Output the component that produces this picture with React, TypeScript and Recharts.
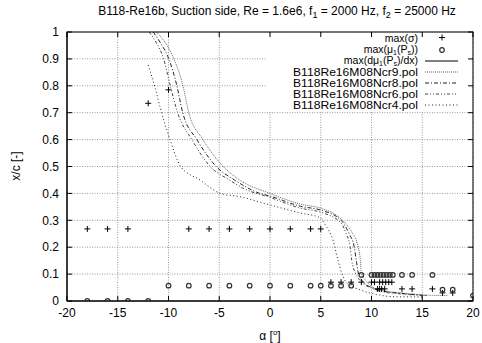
import React from "react";
import { ComposedChart, Line, Scatter, XAxis, YAxis, CartesianGrid } from "recharts";

// max(sigma) locations
const sigmaAlpha = [-18, -16, -14, -12, -10, -8, -6, -4, -2, 0, 2, 4, 5, 6, 7, 8, 9, 10, 10.3, 10.8, 11.1, 11.4, 11.7, 12, 10.6, 10.8, 11, 11.3, 13, 14, 16, 17, 18];
const sigmaXc = [0.268, 0.268, 0.268, 0.735, 0.785, 0.268, 0.268, 0.268, 0.268, 0.268, 0.268, 0.268, 0.268, 0.07, 0.07, 0.07, 0.07, 0.07, 0.07, 0.07, 0.07, 0.07, 0.07, 0.07, 0.045, 0.045, 0.045, 0.045, 0.045, 0.045, 0.045, 0.03, 0.03];

// max(mu1(Ps)) locations
const muAlpha = [-18, -16, -14, -12, -10, -8, -6, -4, -2, 0, 2, 4, 5, 6, 7, 8, 9, 10, 10.3, 10.6, 10.9, 11.2, 11.5, 11.8, 12.1, 13, 14, 16, 17, 18, 20];
const muXc = [0, 0, 0, 0, 0.057, 0.057, 0.057, 0.057, 0.057, 0.057, 0.057, 0.057, 0.057, 0.057, 0.057, 0.057, 0.097, 0.097, 0.097, 0.097, 0.097, 0.097, 0.097, 0.097, 0.097, 0.097, 0.097, 0.097, 0.042, 0.042, 0.02];

// xfoil transition curves
const ncr9Alpha = [-11.2, -10.5, -9.5, -8.6, -8.0, -6.6, -4.6, -3, 0, 3, 5, 7, 8, 8.7, 8.9, 9.0, 9.4, 10, 11, 13, 15.5, 17.5];
const ncr9Xc = [1.0, 0.97, 0.903, 0.804, 0.7, 0.6, 0.5, 0.45, 0.4, 0.36, 0.345, 0.305, 0.26, 0.2, 0.152, 0.104, 0.078, 0.055, 0.04, 0.03, 0.022, 0.02];
const ncr8Alpha = [-11.5, -10.8, -10.0, -9.2, -8.6, -7.2, -5.3, -3.5, -1, 0, 3, 5, 7, 7.8, 8.3, 8.5, 8.7, 9.1, 10, 11, 13, 15.5];
const ncr8Xc = [1.0, 0.96, 0.903, 0.804, 0.7, 0.6, 0.5, 0.45, 0.4, 0.39, 0.352, 0.338, 0.3, 0.25, 0.2, 0.152, 0.104, 0.075, 0.05, 0.038, 0.028, 0.02];
const ncr6Alpha = [-11.9, -11.2, -10.5, -9.85, -9.1, -7.7, -5.9, -4, -2.7, 0, 3, 5, 7, 7.5, 7.9, 8.05, 8.4, 8.9, 10, 11, 13, 15.5];
const ncr6Xc = [1.0, 0.96, 0.903, 0.804, 0.7, 0.6, 0.5, 0.45, 0.42, 0.385, 0.345, 0.33, 0.29, 0.25, 0.2, 0.152, 0.104, 0.075, 0.048, 0.035, 0.026, 0.02];
const ncr4Alpha = [-12, -11.3, -10.8, -9.85, -8.8, -6.9, -4.9, -3, 0, 3, 4.9, 5.5, 6.2, 6.7, 7.06, 7.56, 8.9, 10.8, 12.1, 15];
const ncr4Xc = [0.877, 0.79, 0.717, 0.6, 0.5, 0.45, 0.4, 0.388, 0.357, 0.327, 0.31, 0.28, 0.227, 0.152, 0.104, 0.067, 0.041, 0.022, 0.016, 0.015];

const xTicks = [-20, -15, -10, -5, 0, 5, 10, 15, 20];
const yTicks = [0, 0.1, 0.2, 0.3, 0.4, 0.5, 0.6, 0.7, 0.8, 0.9, 1];

const pts = (a: number[], c: number[]) => a.map((v, i) => ({ a: v, c: c[i] }));

const W = 482;
const H = 343;
const L = 67, R = 473, T = 32, B = 301;
const px = (v: number) => L + ((v + 20) / 40) * (R - L);
const py = (v: number) => B - v * (B - T);

const Plus = (p: any) => (
  <path d={`M${p.cx - 3},${p.cy}h6M${p.cx},${p.cy - 3}v6`} stroke="#000" strokeWidth={1} fill="none" />
);
const Ring = (p: any) => <circle cx={p.cx} cy={p.cy} r={2.3} fill="none" stroke="#333" strokeWidth={1.2} />;

const curves = [
  { name: "B118Re16M08Ncr9.pol", data: pts(ncr9Alpha, ncr9Xc), stroke: "#666", dash: "1 1" },
  { name: "B118Re16M08Ncr8.pol", data: pts(ncr8Alpha, ncr8Xc), stroke: "#222", dash: "4 2 1 2" },
  { name: "B118Re16M08Ncr6.pol", data: pts(ncr6Alpha, ncr6Xc), stroke: "#444", dash: "3 2 1 2 1 2" },
  { name: "B118Re16M08Ncr4.pol", data: pts(ncr4Alpha, ncr4Xc), stroke: "#222", dash: "1 2.5" },
];

function Legend() {
  const rows = [37.5, 50, 61, 72, 83, 94, 105];
  const tx = 418, s0 = 425, s1 = 458;
  return (
    <g fontSize={10.5}>
      <rect x={266} y={33} width={205} height={78} fill="#fff" />
      <text x={tx} y={rows[0] + 4} textAnchor="end">max(σ)</text>
      <Plus cx={442} cy={rows[0]} />
      <text x={tx} y={rows[1] + 3} textAnchor="end">
        max(μ<tspan fontSize={7} dy={1.5}>1</tspan><tspan dy={-1.5}>(P</tspan><tspan fontSize={7} dy={1.5}>s</tspan><tspan dy={-1.5}>))</tspan>
      </text>
      <Ring cx={442} cy={rows[1]} />
      <text x={tx} y={rows[2] + 3} textAnchor="end">
        max(dμ<tspan fontSize={7} dy={1.5}>1</tspan><tspan dy={-1.5}>(P</tspan><tspan fontSize={7} dy={1.5}>s</tspan><tspan dy={-1.5}>)/dx)</tspan>
      </text>
      <line x1={s0} x2={s1} y1={rows[2]} y2={rows[2]} stroke="#000" strokeWidth={1.2} />
      {curves.map((c, i) => (
        <g key={c.name}>
          <text x={tx} y={rows[3 + i] + 4} textAnchor="end" textLength={125} lengthAdjust="spacingAndGlyphs">{c.name}</text>
          <line x1={s0} x2={s1} y1={rows[3 + i]} y2={rows[3 + i]} stroke={c.stroke} strokeDasharray={c.dash} />
        </g>
      ))}
    </g>
  );
}

export default function App() {
  return (
    <div style={{ position: "absolute", left: 0, top: 0, width: W, height: H, background: "#fff", fontFamily: "'Liberation Sans', Arial, sans-serif" }}>
      <ComposedChart width={W} height={H} margin={{ top: T, right: W - R, bottom: 0, left: 7 }}>
        <CartesianGrid stroke="#999" strokeDasharray="1 1.5" />
        <XAxis
          dataKey="a"
          type="number"
          domain={[-20, 20]}
          ticks={xTicks}
          height={H - B}
          tickSize={0}
          tickMargin={7}
          axisLine={{ stroke: "#000" }}
          tick={{ fontSize: 12, fill: "#000" }}
          allowDataOverflow
        />
        <YAxis
          dataKey="c"
          type="number"
          domain={[0, 1]}
          ticks={yTicks}
          width={60}
          tickSize={0}
          tickMargin={8}
          axisLine={{ stroke: "#000" }}
          tick={{ fontSize: 12, fill: "#000" }}
          allowDataOverflow
        />
        {curves.map((c) => (
          <Line
            key={c.name}
            data={c.data}
            dataKey="c"
            type="monotone"
            stroke={c.stroke}
            strokeDasharray={c.dash}
            strokeWidth={1}
            dot={false}
            isAnimationActive={false}
          />
        ))}
        <Scatter data={pts(sigmaAlpha, sigmaXc)} dataKey="c" shape={Plus} isAnimationActive={false} />
        <Scatter data={pts(muAlpha, muXc)} dataKey="c" shape={Ring} isAnimationActive={false} />
      </ComposedChart>
      <svg width={W} height={H} style={{ position: "absolute", left: 0, top: 0, pointerEvents: "none" }}>
        <Legend />
        <rect x={L} y={T} width={R - L} height={B - T} fill="none" stroke="#000" strokeWidth={1} />
        {xTicks.map((t) => (
          <g key={"x" + t} stroke="#000">
            <line x1={px(t)} x2={px(t)} y1={B} y2={B - 5} />
            <line x1={px(t)} x2={px(t)} y1={T} y2={T + 5} />
          </g>
        ))}
        {yTicks.map((t) => (
          <g key={"y" + t} stroke="#000">
            <line x1={L} x2={L + 5} y1={py(t)} y2={py(t)} />
            <line x1={R} x2={R - 5} y1={py(t)} y2={py(t)} />
          </g>
        ))}
        <text x={277} y={15} fontSize={12} textAnchor="middle">
          B118-Re16b, Suction side, Re = 1.6e6, f<tspan fontSize={9} dy={3}>1</tspan>
          <tspan dy={-3}> = 2000 Hz, f</tspan><tspan fontSize={9} dy={3}>2</tspan>
          <tspan dy={-3}> = 25000 Hz</tspan>
        </text>
        <text x={270} y={340} fontSize={12} textAnchor="middle">
          α [<tspan fontSize={8} dy={-5}>o</tspan><tspan dy={5}>]</tspan>
        </text>
        <text x={20} y={166} fontSize={12} textAnchor="middle" transform="rotate(-90 20 166)">x/c [-]</text>
      </svg>
    </div>
  );
}
